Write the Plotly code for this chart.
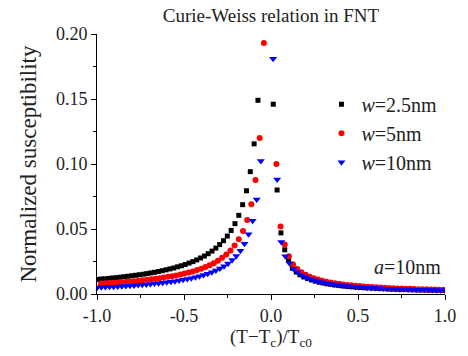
import numpy as np
import plotly.graph_objects as go

# ---------------- data ----------------
# x grids: start + step * index  ((T - Tc)/Tc0)
black_x_start, black_x_step = -0.999, 0.022
red_x_start, red_x_step = -0.977, 0.024
blue_x_start, blue_x_step = -0.9985, 0.0235

# w = 2.5 nm
black_y = [
    0.0112, 0.0115, 0.0117, 0.0120, 0.0123, 0.0126, 0.0129, 0.0133, 0.0136, 0.0140,
    0.0144, 0.0148, 0.0152, 0.0157, 0.0162, 0.0167, 0.0173, 0.0179, 0.0186, 0.0193,
    0.0200, 0.0209, 0.0217, 0.0227, 0.0238, 0.0249, 0.0262, 0.0277, 0.0292, 0.0310,
    0.0330, 0.0353, 0.0380, 0.0410, 0.0446, 0.0489, 0.0541, 0.0605, 0.0687, 0.0794,
    0.0941, 0.1155, 0.149, 0.211, 0.361, 1.244,
    0.146, 0.080, 0.047, 0.034, 0.026,
    0.0198, 0.0169, 0.0148, 0.0131, 0.0118, 0.0108, 0.0099, 0.0091, 0.0085, 0.0079,
    0.0075, 0.0070, 0.0067, 0.0063, 0.0060, 0.0057, 0.0055, 0.0052, 0.0050, 0.0048,
    0.0047, 0.0045, 0.0043, 0.0042, 0.0041, 0.0039, 0.0038, 0.0037, 0.0036, 0.0035,
    0.0034, 0.0033, 0.0032, 0.0031, 0.0031, 0.0030, 0.0029, 0.0029, 0.0028, 0.0027,
]

# w = 5 nm
red_y = [
    0.0080, 0.0082, 0.0084, 0.0086, 0.0089, 0.0091, 0.0094, 0.0096, 0.0099, 0.0102,
    0.0106, 0.0109, 0.0113, 0.0117, 0.0122, 0.0126, 0.0132, 0.0137, 0.0143, 0.0150,
    0.0157, 0.0165, 0.0174, 0.0184, 0.0195, 0.0207, 0.0221, 0.0237, 0.0256, 0.0278,
    0.0304, 0.0335, 0.0373, 0.0422, 0.0484, 0.0569, 0.0690, 0.0876, 0.120, 0.193, 0.459,
    0.357, 0.100, 0.052, 0.038, 0.029,
    0.0227, 0.0193, 0.0168, 0.0148, 0.0133, 0.0121, 0.0111, 0.0102, 0.0095, 0.0088,
    0.0083, 0.0078, 0.0074, 0.0070, 0.0067, 0.0063, 0.0061, 0.0058, 0.0056, 0.0053,
    0.0051, 0.0050, 0.0048, 0.0046, 0.0045, 0.0043, 0.0042, 0.0041, 0.0040, 0.0039,
    0.0037, 0.0036, 0.0036, 0.0035, 0.0034, 0.0033, 0.0032,
]

# w = 10 nm
blue_y = [
    0.0050, 0.0052, 0.0053, 0.0055, 0.0056, 0.0058, 0.0060, 0.0062, 0.0064, 0.0066,
    0.0069, 0.0071, 0.0074, 0.0077, 0.0080, 0.0083, 0.0087, 0.0091, 0.0095, 0.0099,
    0.0104, 0.0109, 0.0115, 0.0122, 0.0129, 0.0137, 0.0146, 0.0156, 0.0167, 0.0180,
    0.0196, 0.0214, 0.0235, 0.0261, 0.0293, 0.0333, 0.0386, 0.0459, 0.0563, 0.0727,
    0.1024, 0.25, 0.60,
    0.181, 0.088, 0.040, 0.029,
    0.0236, 0.0195, 0.0167, 0.0145, 0.0129, 0.0116, 0.0106, 0.0097, 0.0090, 0.0083,
    0.0078, 0.0073, 0.0069, 0.0065, 0.0062, 0.0059, 0.0056, 0.0054, 0.0051, 0.0049,
    0.0047, 0.0046, 0.0044, 0.0042, 0.0041, 0.0040, 0.0038, 0.0037, 0.0036, 0.0035,
    0.0034, 0.0033, 0.0032, 0.0032, 0.0031, 0.0030, 0.0029, 0.0029, 0.0028,
]

series_names = ["<i>w</i>=2.5nm", "<i>w</i>=5nm", "<i>w</i>=10nm"]
x_tick_vals = [-1.0, -0.5, 0.0, 0.5, 1.0]
x_tick_text = ["-1.0", "-0.5", "0.0", "0.5", "1.0"]
y_tick_vals = [0.00, 0.05, 0.10, 0.15, 0.20]
y_tick_text = ["0.00", "0.05", "0.10", "0.15", "0.20"]

black_x = black_x_start + black_x_step * np.arange(len(black_y))
red_x = red_x_start + red_x_step * np.arange(len(red_y))
blue_x = blue_x_start + blue_x_step * np.arange(len(blue_y))

FONT = "Liberation Serif, Times New Roman, serif"
TXT = "#222"

fig = go.Figure()
fig.add_trace(go.Scatter(x=black_x, y=black_y, mode="markers", name=series_names[0],
                         marker=dict(symbol="square", size=5, color="black")))
fig.add_trace(go.Scatter(x=red_x, y=red_y, mode="markers", name=series_names[1],
                         marker=dict(symbol="circle", size=6, color="red")))
fig.add_trace(go.Scatter(x=blue_x, y=blue_y, mode="markers", name=series_names[2],
                         marker=dict(symbol="triangle-down", size=7, color="blue")))

axis_common = dict(showline=True, linecolor="black", linewidth=1, mirror=False,
                   showgrid=False, zeroline=False, ticks="outside", ticklen=5,
                   tickwidth=1, tickcolor="black",
                   tickfont=dict(family=FONT, size=18, color=TXT))

fig.update_xaxes(range=[-1.0, 1.0], tickvals=x_tick_vals, ticktext=x_tick_text,
                 minor=dict(ticks="outside", ticklen=3, dtick=0.25, tick0=-1.0,
                            tickcolor="black"),
                 **axis_common)
fig.update_yaxes(range=[0.0, 0.2], tickvals=y_tick_vals, ticktext=y_tick_text,
                 minor=dict(ticks="outside", ticklen=3, dtick=0.025, tick0=0.0,
                            tickcolor="black"),
                 title=dict(text="Normalized susceptibility",
                            font=dict(family=FONT, size=23, color=TXT), standoff=12),
                 **axis_common)

fig.update_layout(
    width=468, height=356,
    margin=dict(l=97, r=18, t=34, b=62),
    paper_bgcolor="white", plot_bgcolor="white",
    title=dict(text="Curie-Weiss relation in FNT", x=0.5, xref="paper",
               y=1 - 15 / 356, yref="container", yanchor="middle",
               font=dict(family=FONT, size=19, color=TXT)),
    legend=dict(x=0.645, y=0.805, xanchor="left", yanchor="top",
                bgcolor="rgba(0,0,0,0)",
                font=dict(family=FONT, size=20, color=TXT)),
    annotations=[
        dict(text="<i>a</i>=10nm", x=0.995, y=0.105, xref="paper", yref="paper",
             xanchor="right", yanchor="middle", showarrow=False,
             font=dict(family=FONT, size=20, color=TXT)),
        dict(text="(T\u2212T<sub>c</sub>)/T<sub>c0</sub>", x=0.5, y=-0.168,
             xref="paper", yref="paper", xanchor="center", yanchor="middle",
             showarrow=False, font=dict(family=FONT, size=19, color=TXT)),
    ],
)

fig.write_html("out.html")
